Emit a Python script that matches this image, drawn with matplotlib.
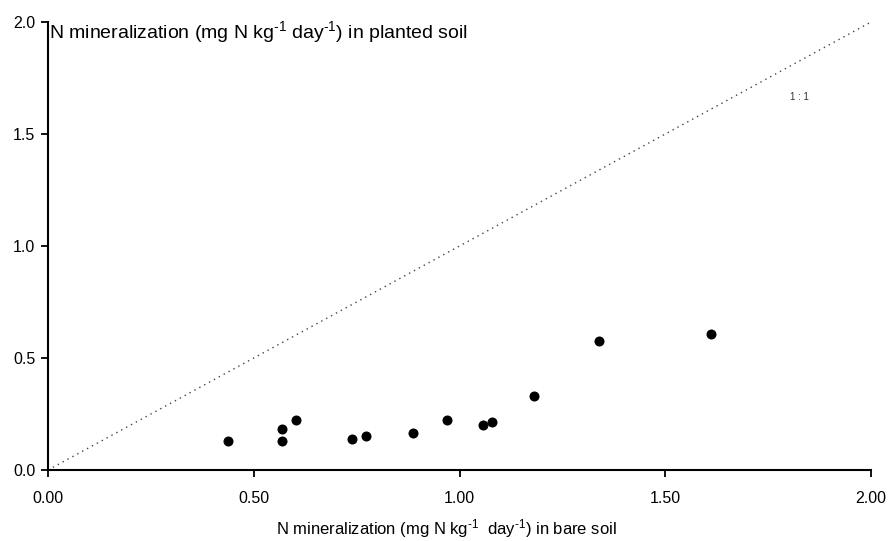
import matplotlib
matplotlib.use('Agg')
from matplotlib import pyplot as plt

plt.rcParams['font.family'] = ['Liberation Sans', 'DejaVu Sans']
plt.rcParams['mathtext.fontset'] = 'custom'
plt.rcParams['mathtext.rm'] = 'Liberation Sans'
plt.rcParams['mathtext.default'] = 'regular'

# N mineralization, bare soil (x) vs planted soil (y)
bare = [0.438, 0.569, 0.569, 0.602, 0.738, 0.773, 0.887, 0.969, 1.058, 1.079, 1.180, 1.340, 1.612]
planted = [0.131, 0.131, 0.184, 0.222, 0.140, 0.150, 0.167, 0.222, 0.202, 0.213, 0.331, 0.577, 0.606]

one_to_one = [0, 2]
x_ticks = [0.0, 0.5, 1.0, 1.5, 2.0]
y_ticks = [0.0, 0.5, 1.0, 1.5, 2.0]

fig = plt.figure(figsize=(8.9, 5.41), dpi=100)
ax = fig.add_axes([0.0539, 0.1312, 0.9248, 0.8281])

ax.plot(one_to_one, one_to_one, linestyle=(0, (1, 3)), color='#444444', linewidth=1.0)
ax.scatter(bare, planted, s=52, color='black', zorder=3, linewidths=0)
ax.text(1.825, 1.665, '1 : 1', fontsize=7, ha='center', va='center', color='#333333')

ax.set_xlim(0, 2)
ax.set_ylim(0, 2)
ax.set_xticks(x_ticks)
ax.set_xticklabels(['%.2f' % v for v in x_ticks])
ax.set_yticks(y_ticks)
ax.set_yticklabels(['%.1f' % v for v in y_ticks])

for s in ['top', 'right']:
    ax.spines[s].set_visible(False)
for s in ['left', 'bottom']:
    ax.spines[s].set_linewidth(1.5)
ax.tick_params(axis='both', labelsize=11.5, length=5, width=1.3, direction='out')
ax.tick_params(axis='x', pad=10)
ax.tick_params(axis='y', pad=4)

sup = r'$^{\text{-}1}$'
ax.set_xlabel('N mineralization (mg N kg' + sup + '  day' + sup + ') in bare soil', fontsize=12)
ax.xaxis.set_label_coords(0.484, -0.105)
ax.text(0.003, 1.93, 'N mineralization (mg N kg' + sup + ' day' + sup + ') in planted soil',
        fontsize=14, ha='left', va='baseline')

plt.savefig('out.png', dpi=100)
